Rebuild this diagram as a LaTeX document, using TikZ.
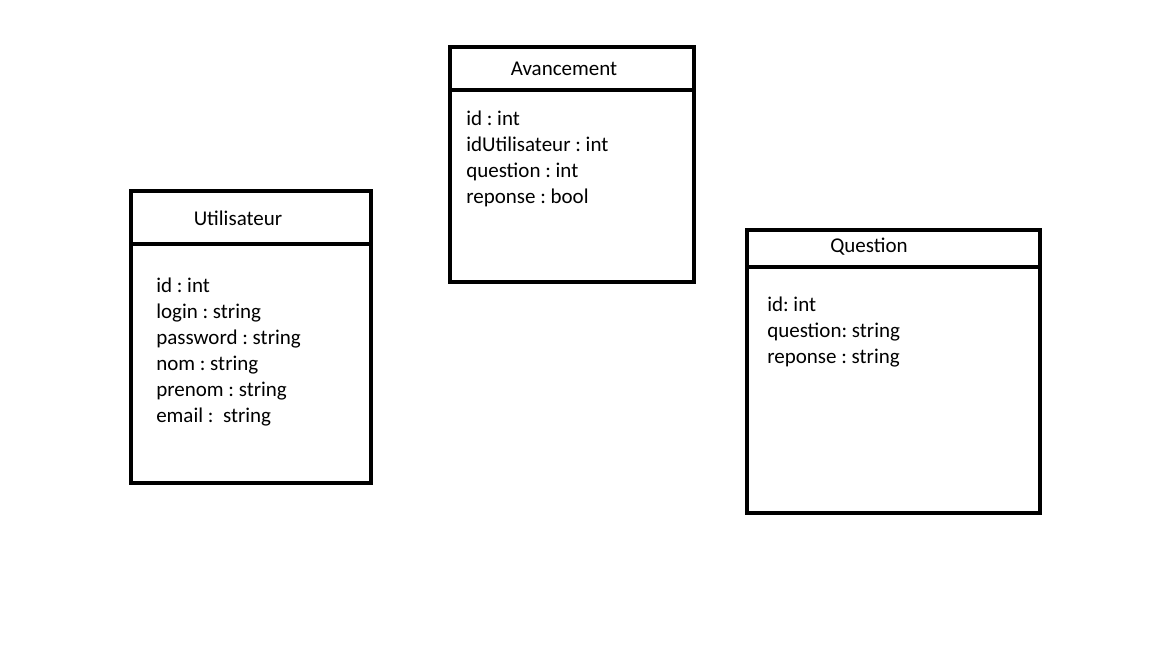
\documentclass[tikz,border=0pt]{standalone}
\usepackage{fontspec}
\setmainfont{Carlito}
\frenchspacing
\begin{document}
\begin{tikzpicture}[x=1pt, y=-1pt, line width=4.5pt,
  classtitle/.style={font=\fontsize{21}{26}\selectfont, anchor=base, inner sep=0pt},
  attr/.style={font=\fontsize{21}{26}\selectfont, anchor=base west, inner sep=0pt}]
  \useasboundingbox (0,0) rectangle (1152,648);
  % Utilisateur
  \draw (131,191) rectangle (371,483);
  \draw (131,244) -- (371,244);
  \node[classtitle] (utilisateur) at (238,225) {Utilisateur};
  \foreach \txt [count=\i] in {id : int, login : string, password : string,
      nom : string, prenom : string, email : \ string}
    \node[attr] (util-\i) at (154,266+26*\i) {\txt};
  % Avancement
  \draw (450,47) rectangle (694,282);
  \draw (450,90) -- (694,90);
  \node[classtitle] (avancement) at (564,75) {Avancement};
  \foreach \txt [count=\i] in {id : int, idUtilisateur : int, question : int,
      reponse : bool}
    \node[attr] (avanc-\i) at (464,99+26*\i) {\txt};
  % Question
  \draw (747,230) rectangle (1040,513);
  \draw (747,267) -- (1040,267);
  \node[classtitle] (question) at (869,252) {Question};
  \foreach \txt [count=\i] in {id: int, question: string, reponse : string}
    \node[attr] (quest-\i) at (765,285+26*\i) {\txt};
\end{tikzpicture}
\end{document}
